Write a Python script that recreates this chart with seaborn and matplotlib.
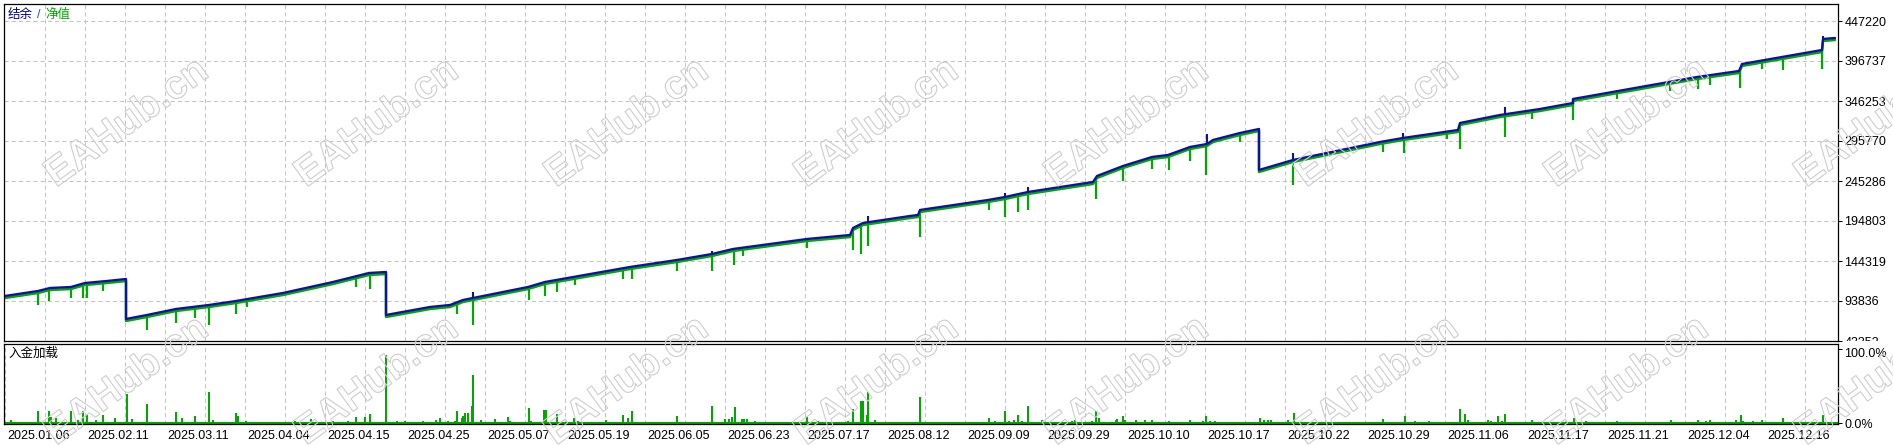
import numpy as np
import pandas as pd
import seaborn as sns
import matplotlib.pyplot as plt
import matplotlib.transforms as mtransforms
from matplotlib.textpath import TextPath
from matplotlib.patches import PathPatch
from matplotlib.font_manager import FontProperties

# balance curve (deal number on the x axis, account value)
balance_deal = [0, 33, 45, 66, 80, 102, 121, 121, 142, 171, 204, 231, 278, 328, 364, 381, 381,
                425, 445, 458, 468, 523, 540, 625, 672, 707, 728, 802, 845, 848, 858, 905, 913,
                915, 983, 1000, 1023, 1088, 1092, 1118, 1147, 1163, 1185, 1202, 1208, 1235, 1254,
                1254, 1288, 1375, 1398, 1453, 1455, 1495, 1535, 1568, 1568, 1692, 1734, 1737,
                1817, 1818, 1830]
balance_value = [100150, 106460, 110240, 111500, 116550, 119080, 121600, 71120, 76170, 83740,
                 88790, 93840, 103930, 117820, 129170, 130440, 76170, 86260, 88790, 95100, 97620,
                 111500, 117820, 136750, 145580, 153150, 159460, 172090, 177130, 185970, 192280,
                 201110, 202380, 208690, 221310, 225090, 231400, 244030, 251600, 264220, 275580,
                 278100, 288200, 291980, 297030, 305870, 310920, 259170, 271790, 294510, 299560,
                 309650, 318490, 328580, 336160, 343730, 348780, 376540, 384120, 392950, 410620,
                 424510, 425770]

# equity dips under the balance (deal number, lowest equity)
dip_deal = [33, 44, 66, 78, 82, 98, 142, 171, 190, 204, 231, 242, 351, 365, 452, 468, 524, 540,
            552, 570, 618, 627, 672, 707, 729, 738, 802, 848, 856, 863, 915, 984, 1000, 1013,
            1023, 1091, 1118, 1147, 1164, 1185, 1201, 1235, 1288, 1378, 1399, 1442, 1455, 1500,
            1527, 1568, 1612, 1665, 1693, 1705, 1735, 1757, 1778, 1817]
dip_value = [91310, 96360, 100150, 100150, 100150, 108980, 59760, 68590, 74900, 66070, 79950,
             88790, 114030, 111500, 79950, 66070, 97620, 102670, 107720, 116550, 124130, 124130,
             134220, 134220, 141800, 153150, 163250, 160730, 155680, 165780, 177130, 211210,
             202380, 208690, 211210, 225090, 247810, 262960, 261690, 273050, 255380, 297030,
             242760, 284410, 283150, 300820, 288200, 303350, 326060, 324800, 351300, 361400,
             363920, 368970, 365450, 389170, 387900, 389170]

# short upward blips on the balance line
blip_deal = [468, 707, 863, 1000, 1023, 1202, 1288, 1398, 1500, 1818]
blip_value = [105190, 156940, 201110, 230140, 237710, 304600, 280620, 305870, 338680, 428290]

# deposit load, percent
load_deal = [6, 33, 38, 44, 46, 51, 66, 73, 78, 82, 91, 98, 110, 122, 127, 142, 171, 177, 190,
             204, 208, 231, 233, 241, 267, 290, 306, 328, 343, 351, 360, 365, 381, 392, 400, 418,
             431, 435, 443, 450, 452, 457, 458, 460, 463, 467, 468, 476, 490, 503, 505, 521, 524,
             526, 534, 539, 541, 548, 552, 563, 569, 573, 583, 601, 604, 608, 618, 623, 627, 638,
             655, 672, 680, 707, 720, 724, 727, 730, 737, 739, 742, 750, 775, 802, 813, 835, 843,
             848, 856, 858, 862, 863, 870, 905, 915, 923, 928, 952, 956, 966, 984, 990, 1000,
             1004, 1009, 1013, 1017, 1023, 1037, 1054, 1058, 1067, 1070, 1083, 1087, 1091, 1094,
             1111, 1112, 1118, 1120, 1131, 1140, 1147, 1164, 1185, 1198, 1201, 1205, 1210, 1214,
             1225, 1236, 1255, 1259, 1263, 1266, 1283, 1289, 1378, 1400, 1410, 1417, 1424, 1431,
             1443, 1455, 1460, 1463, 1483, 1486, 1493, 1497, 1500, 1527, 1558, 1569, 1581, 1598,
             1612, 1633, 1641, 1648, 1666, 1672, 1680, 1693, 1701, 1705, 1731, 1736, 1738, 1748,
             1757, 1778, 1788, 1793, 1800, 1804, 1818]
load_pct = [4, 16, 1.3, 16, 8, 6.7, 16, 4, 16, 10.7, 4, 10.7, 6.7, 38.7, 5.3, 25.3, 14.7, 6.7,
            9.3, 41.3, 4, 13.3, 9.3, 2.7, 1.3, 2.7, 5.3, 2.7, 2.7, 8, 8, 12, 92, 2.7, 2.7, 2.7,
            4, 6.7, 2.7, 2.7, 16, 6.7, 9.3, 13.3, 13.3, 22.7, 65.3, 4, 5.3, 8, 2.7, 1.3, 20, 2.7,
            1.3, 17.3, 17.3, 1.3, 12, 1.3, 6.7, 2.7, 1.3, 4, 1.3, 1.3, 10.7, 6.7, 16, 1.3, 1.3,
            9.3, 1.3, 22.7, 5.3, 5.3, 8, 21.3, 5.3, 5.3, 5.3, 2.7, 1.3, 8, 2.7, 1.3, 2.7, 18.7,
            29.3, 29.3, 10.7, 41.3, 4, 1.3, 34.7, 1.3, 1.3, 1.3, 1.3, 1.3, 6.7, 2.7, 16, 2.7, 4,
            10.7, 2.7, 22.7, 4, 1.3, 1.3, 2.7, 4, 1.3, 2.7, 16, 6.7, 4, 5.3, 9.3, 4, 4, 4, 4,
            2.7, 4, 2.7, 9.3, 2.7, 2.7, 1.3, 1.3, 1.3, 6.7, 4, 4, 4, 4, 13.3, 5.3, 9.3, 2.7, 1.3,
            2.7, 1.3, 1.3, 18.7, 12, 4, 4, 2.7, 9.3, 2.7, 12, 4, 1.3, 6.7, 2.7, 1.3, 2.7, 1.3,
            1.3, 1.3, 4, 1.3, 1.3, 4, 2.7, 4, 4, 10.7, 2.7, 2.7, 4, 6.7, 1.3, 1.3, 1.3, 1.3, 10.7]

date_labels = ["2025.01.06", "2025.02.11", "2025.03.11", "2025.04.04", "2025.04.15",
               "2025.04.25", "2025.05.07", "2025.05.19", "2025.06.05", "2025.06.23",
               "2025.07.17", "2025.08.12", "2025.09.09", "2025.09.29", "2025.10.10",
               "2025.10.17", "2025.10.22", "2025.10.29", "2025.11.06", "2025.11.17",
               "2025.11.21", "2025.12.04", "2025.12.16"]
value_ticks = [43352, 93836, 144319, 194803, 245286, 295770, 346253, 396737, 447220]

blue = "#1010a8"
green = "#00a800"
grid_col = "#c4c4c4"

sns.set_style("white")
plt.rcParams['font.family'] = ['Liberation Sans', 'Noto Sans CJK SC', 'DejaVu Sans']
plt.rcParams['lines.scale_dashes'] = False

W, H = 1893, 445
fig = plt.figure(figsize=(W / 100, H / 100), dpi=100)
ax = fig.add_axes([4 / W, 1 - 341 / H, 1834 / W, 337 / H])
ax2 = fig.add_axes([4 / W, 1 - 424 / H, 1834 / W, 80 / H])

# equity sits a pixel or two under the balance
down = mtransforms.offset_copy(ax.transData, fig=fig, x=0, y=-2, units='dots')

bal = pd.DataFrame({"deal": balance_deal, "value": balance_value})
sns.lineplot(data=bal, x="deal", y="value", ax=ax, estimator=None, sort=False,
             color=green, lw=1.8, transform=down)
dip_top = np.interp(dip_deal, balance_deal, balance_value)
ax.vlines(dip_deal, dip_value, dip_top, colors=green, lw=1.6, transform=down)
blip_base = np.interp(blip_deal, balance_deal, balance_value)
ax.vlines(blip_deal, blip_base, blip_value, colors=blue, lw=1.5)
sns.lineplot(data=bal, x="deal", y="value", ax=ax, estimator=None, sort=False,
             color=blue, lw=1.7)

dash = (0, (3, 2.2))
ax.set_xlim(-1, 1833)
ax.set_ylim(43352, 468676)
ax.set_xticks(np.arange(40, 1833, 40))
ax.tick_params(axis='x', length=0, labelbottom=False)
ax.yaxis.tick_right()
ax.set_yticks(value_ticks)
ax.set_yticklabels([str(v) for v in value_ticks])
ax.tick_params(axis='y', direction='out', length=3, width=0.75, pad=1.5, labelsize=9,
               colors='black')
ax.grid(True, color=grid_col, lw=0.75, ls=dash)
ax.set_xlabel("")
ax.set_ylabel("")

# deposit load panel
ax2.bar(load_deal, load_pct, width=2, color=green, linewidth=0)
ax2.axhline(0, color=green, lw=1.5)
ax2.set_xlim(-1, 1833)
ax2.set_ylim(-1.35, 106.8)
ax2.set_xticks(np.arange(0, 80 * len(date_labels), 80))
ax2.set_xticklabels(date_labels, ha='left')
ax2.set_xticks(np.arange(40, 1833, 80), minor=True)
ax2.tick_params(axis='x', which='major', direction='out', length=3, width=0.75, pad=1.5,
                labelsize=9, colors='black')
ax2.tick_params(axis='x', which='minor', length=0)
ax2.grid(True, axis='x', which='both', color=grid_col, lw=0.75, ls=dash)
ax2.grid(False, axis='y')
ax2.yaxis.tick_right()
ax2.set_yticks([0, 100])
ax2.set_yticklabels(["0.0%", "100.0%"])
ax2.tick_params(axis='y', direction='out', length=3, width=0.75, pad=1.5, labelsize=9,
                colors='black')
shift = mtransforms.ScaledTranslation(2 / 100, 0, fig.dpi_scale_trans)
for lab in ax2.get_xticklabels():
    lab.set_transform(lab.get_transform() + shift)
# the 100% label sits a little lower in the original
top_lab = ax2.get_yticklabels()[1]
top_lab.set_transform(top_lab.get_transform()
                      + mtransforms.ScaledTranslation(0, -3 / 100, fig.dpi_scale_trans))

# lowest value label is cut by the lower panel, as in the original
clip = mtransforms.Bbox.from_extents(0, H - 341, W, H)
for lab in ax.get_yticklabels():
    lab.set_clip_box(clip)
    lab.set_clip_on(True)

for a in (ax, ax2):
    for s in a.spines.values():
        s.set_visible(True)
        s.set_color("black")
        s.set_linewidth(0.9)

# panel captions
fig.text(8 / W, 1 - 15 / H, "结余", color="#00008b", fontsize=9, va='center')
fig.text(37 / W, 1 - 15 / H, "/", color="#2050c0", fontsize=9, va='center')
fig.text(45 / W, 1 - 15 / H, "净值", color=green, fontsize=9, va='center')
fig.text(8 / W, 1 - 354 / H, "入金加载", color="black", fontsize=9, va='center')

# outlined watermark
wm = TextPath((0, 0), "EAHub.cn", size=40,
              prop=FontProperties(family="Liberation Sans", weight="bold"))
bb = wm.get_extents()
for cy in (120, 378):
    for cx in range(125, 1900, 250):
        tr = (mtransforms.Affine2D()
              .translate(-bb.x0 - bb.width / 2, -bb.y0 - bb.height / 2)
              .rotate_deg(36)
              .translate(cx, H - cy))
        fig.add_artist(PathPatch(wm, transform=tr, facecolor='none',
                                 edgecolor='#cdcdcd', lw=0.8, zorder=5))

fig.savefig("out.png", dpi=100)
